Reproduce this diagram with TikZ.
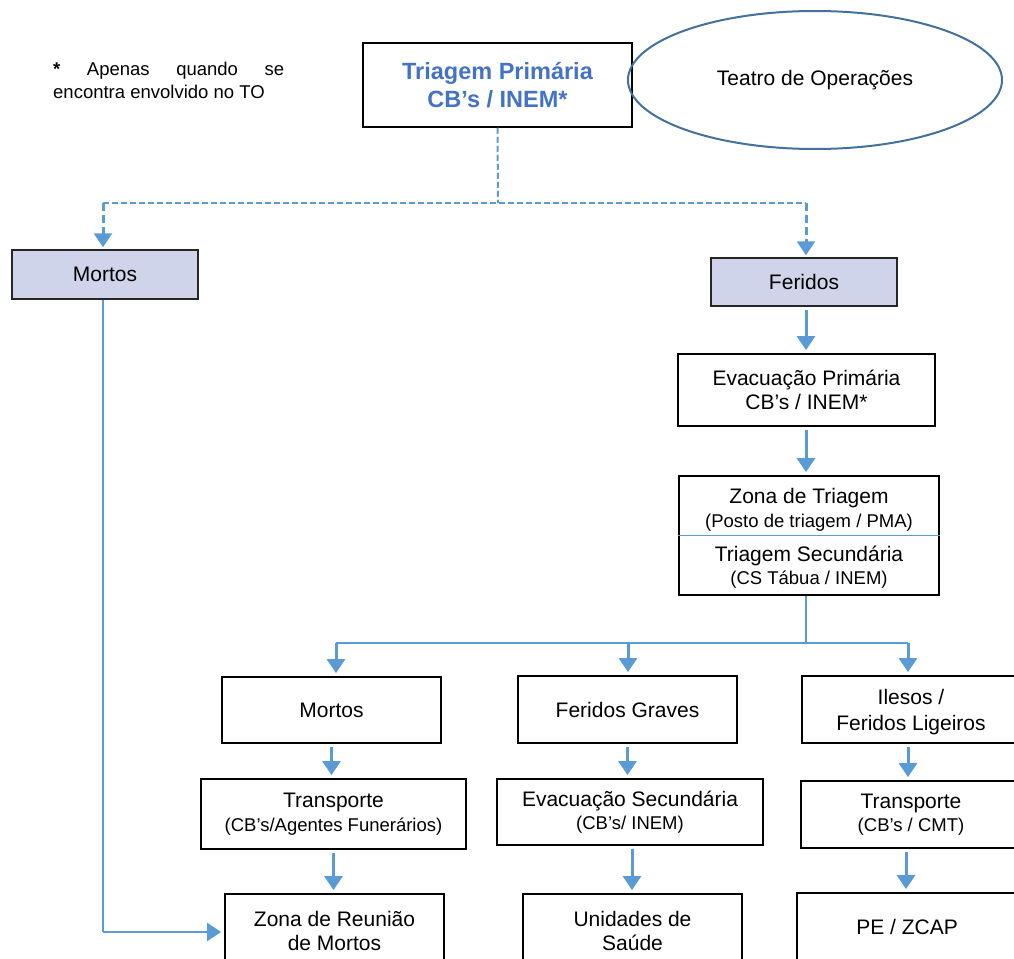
\documentclass[tikz,border=0pt]{standalone}
\usepackage{fontspec}
\setmainfont{Liberation Sans}
\usetikzlibrary{arrows.meta,shapes.geometric,calc}
\definecolor{lblue}{HTML}{5B9BD5}
\definecolor{eblue}{HTML}{41719C}
\definecolor{tblue}{HTML}{4472C4}
\definecolor{lav}{HTML}{CFD4EA}
\newcommand\fmain{\fontsize{21}{23.5}\selectfont}
\newcommand\fsmall{\fontsize{18.5}{21}\selectfont}
\newcommand\fnote{\fontsize{18.5}{23}\selectfont}
\begin{document}
\begin{tikzpicture}[x=1pt,y=-1pt,
  box/.style={draw=black, line width=1.8pt, rectangle, inner sep=0pt, align=center, font=\fmain},
  hbox/.style={box, fill=lav, line width=1.5pt, draw=black!85},
  txt/.style={inner sep=0pt, align=center, font=\fmain},
  arr/.style={draw=lblue, line width=3pt, -{Triangle[width=18pt,length=14pt]}, shorten >=3pt, shorten <=3pt},
  thinl/.style={draw=lblue, line width=1.5pt},
  dashl/.style={draw=lblue, line width=2pt, dash pattern=on 6pt off 3pt},
  dasharr/.style={draw=lblue, line width=3pt, dash pattern=on 8pt off 4pt, -{Triangle[width=18pt,length=14pt]}, shorten >=2pt},
]
\useasboundingbox (0,0) rectangle (1014,958);
\clip (0,0) rectangle (1014,958);

% note
\node[anchor=north west, inner sep=0pt, align=left, font=\fnote] (note) at (53,61.5)
  {\makebox[231pt][s]{\textbf{*}\hfill Apenas\hfill quando\hfill se}\\encontra envolvido no TO};

% top
\node[box, line width=1.5pt, minimum width=269pt, minimum height=84pt,
      font=\fontsize{23.5}{28}\selectfont\bfseries, text=tblue] (trip) at (497.5,85)
  {Triagem Primária\\CB’s / INEM*};
\node[ellipse, draw=eblue, line width=2pt, minimum width=374pt, minimum height=138pt,
      inner sep=0pt, font=\fmain] (teatro) at (815,80) {Teatro de Operações};

\node[hbox, minimum width=186pt, minimum height=49pt] (mortosA) at (105,274.5) {Mortos};
\node[hbox, minimum width=186pt, minimum height=48pt] (feridosA) at (804,282) {Feridos};

\node[box, minimum width=257pt, minimum height=72pt] (evp) at (806.5,390)
  {Evacuação Primária\\CB’s / INEM*};

\node[box, minimum width=260pt, minimum height=119pt] (zt) at (809,535.5) {};
\node[txt] (zta) at (809,510) {Zona de Triagem\\{\fsmall (Posto de triagem / PMA)}};
\node[txt] (ztb) at (809,567) {Triagem Secundária\\{\fsmall (CS Tábua / INEM)}};
\draw[lblue, line width=1pt] (zt.west |- 0,535) -- (zt.east |- 0,535);

% row 1
\node[box, minimum width=219pt, minimum height=66pt] (mortosB) at (331.5,710) {Mortos};
\node[box, minimum width=219pt, minimum height=67pt] (fg) at (627.5,709.5) {Feridos Graves};
\node[box, minimum width=218pt, minimum height=67pt] (il) at (911,709.5) {};
\node[txt] (ilt) at (911,712.5) {Ilesos /\\[2.5pt]Feridos Ligeiros};

% row 2
\node[box, minimum width=265pt, minimum height=70pt] (tr1) at (333.5,814)
  {Transporte\\{\fsmall (CB’s/Agentes Funerários)}};
\node[box, minimum width=266pt, minimum height=66pt] (es) at (630,812)
  {Evacuação Secundária\\{\fsmall (CB’s/ INEM)}};
\node[box, minimum width=220pt, minimum height=67pt] (tr2) at (911,814.5)
  {Transporte\\{\fsmall (CB’s / CMT)}};

% row 3
\node[box, minimum width=219pt, minimum height=74pt] (zr) at (334.5,931) {Zona de Reunião\\de Mortos};
\node[box, minimum width=219pt, minimum height=74pt] (us) at (632.5,931) {Unidades de\\Saúde};
\node[box, minimum width=220pt, minimum height=68pt] (pe) at (907,927) {PE / ZCAP};

% dashed connectors
\coordinate (j1) at (498,203);
\draw[dashl] (trip.south) -- (j1);
\draw[dashl] (j1 -| 103,0) -- (j1 -| 806,0);
\draw[dasharr] (j1 -| 103,0) -- (103,0 |- mortosA.north);
\draw[dasharr] (j1 -| 806,0) -- (806,0 |- feridosA.north);

% right column
\draw[arr] (feridosA.south -| 806,0) -- (806,0 |- evp.north);
\draw[arr] (evp.south -| 806,0) -- (806,0 |- zt.north);

\coordinate (j2) at (806,643);
\coordinate (b1) at (336,643);
\coordinate (b2) at (628,643);
\coordinate (b3) at (908,643);
\draw[thinl] (j2 |- zt.south) -- (j2);
\draw[thinl] (b1) -- (b3);
\draw[arr, shorten <=0pt] (b1) -- (b1 |- mortosB.north);
\draw[arr, shorten <=0pt] (b2) -- (b2 |- fg.north);
\draw[arr, shorten <=0pt] (b3) -- (b3 |- il.north);

\draw[arr] (mortosB.south) -- (mortosB.south |- tr1.north);
\draw[arr] (fg.south) -- (fg.south |- es.north);
\draw[arr] (il.south -| 908,0) -- (908,0 |- tr2.north);

\draw[arr] (tr1.south) -- (tr1.south |- zr.north);
\draw[arr] (es.south -| 632,0) -- (632,0 |- us.north);
\draw[arr] (tr2.south -| 906,0) -- (906,0 |- pe.north);

% left line
\draw[thinl] (mortosA.south -| 103,0) -- (103,932) coordinate (k);
\draw[arr, line width=2.5pt, shorten <=0pt] (k) -- (k -| zr.west);
\end{tikzpicture}
\end{document}
